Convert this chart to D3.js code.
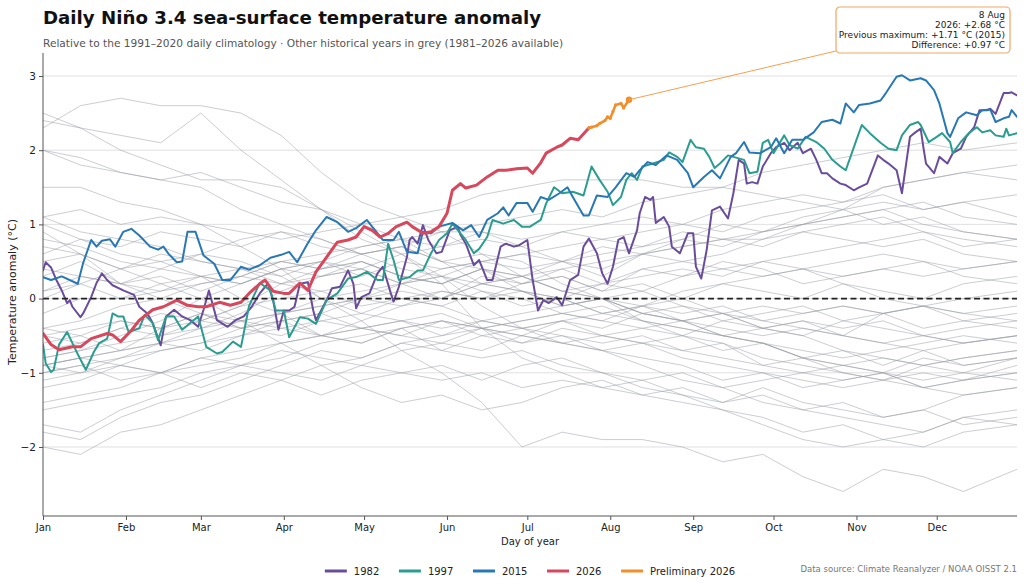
<!DOCTYPE html>
<html><head><meta charset="utf-8">
<script src="https://cdn.jsdelivr.net/npm/d3@7/dist/d3.min.js"></script>
<style>
html,body{margin:0;padding:0;background:#fff;}
svg{display:block;font-family:"DejaVu Sans",sans-serif;}
</style></head>
<body>
<svg id="chart" width="1024" height="588"></svg>
<script>
// ---------------- DATA ----------------
const monthLabels = ["Jan","Feb","Mar","Apr","May","Jun","Jul","Aug","Sep","Oct","Nov","Dec"];
const monthStartDays = [1,32,60,91,121,152,182,213,244,274,305,335];
const yTicks = [-2,-1,0,1,2,3];

const s1982 = [[1,0.38],[2,0.49],[4,0.42],[6,0.25],[8,0.11],[10,-0.06],[11,-0.02],[12,-0.11],[15,-0.25],[16,-0.2],[19,0.02],[21,0.21],[23,0.34],[25,0.25],[27,0.18],[31,0.11],[35,0.05],[37,-0.11],[40,-0.2],[42,-0.33],[45,-0.63],[47,-0.24],[50,-0.15],[53,-0.24],[56,-0.29],[59,-0.38],[61,-0.15],[63,0.11],[66,-0.29],[70,-0.38],[73,-0.29],[76,-0.24],[79,-0.11],[82,0.07],[85,0.2],[87,-0.02],[89,-0.42],[91,-0.16],[93,-0.16],[95,-0.11],[97,0.2],[100,0.22],[102,-0.16],[103,-0.29],[107,-0.02],[109,0.14],[112,0.16],[115,0.38],[117,0.2],[118,-0.13],[120,0.02],[123,0.07],[126,0.34],[128,0.43],[131,0.07],[132,-0.04],[134,0.16],[137,0.56],[138,0.79],[139,0.83],[141,0.74],[143,0.99],[145,0.79],[148,0.61],[150,0.63],[153,0.92],[156,0.97],[157,0.86],[159,0.74],[162,0.45],[164,0.52],[167,0.25],[169,0.25],[172,0.7],[174,0.74],[177,0.7],[179,0.72],[182,0.79],[184,0.25],[186,-0.16],[188,-0.02],[190,-0.06],[193,0.02],[195,-0.09],[198,0.25],[201,0.32],[203,0.7],[205,0.81],[208,0.61],[210,0.34],[212,0.2],[214,0.43],[216,0.79],[218,0.83],[220,0.61],[223,0.92],[224,1.15],[226,1.37],[228,1.33],[229,1.37],[230,1.02],[233,1.1],[235,0.97],[236,0.7],[239,0.61],[242,0.88],[244,0.88],[245,0.43],[247,0.27],[249,0.65],[251,1.19],[254,1.24],[257,1.08],[259,1.42],[261,1.87],[263,1.82],[264,1.55],[266,1.57],[268,1.55],[270,1.78],[273,1.96],[275,2.04],[278,2.1],[280,2.0],[283,2.1],[285,1.96],[288,2.02],[290,1.87],[292,1.69],[294,1.69],[296,1.62],[299,1.55],[301,1.53],[304,1.46],[306,1.5],[309,1.55],[313,1.93],[315,1.87],[317,1.82],[320,1.73],[322,1.42],[325,2.18],[327,2.24],[329,2.29],[330,2.04],[331,1.82],[334,1.69],[336,1.91],[339,1.82],[341,1.96],[344,2.02],[346,2.18],[349,2.31],[351,2.54],[354,2.54],[355,2.56],[357,2.49],[360,2.77],[362,2.77],[363,2.78],[365,2.74]];

const s1997 = [[1,-0.62],[2,-0.87],[4,-0.99],[5,-0.96],[7,-0.62],[10,-0.45],[12,-0.6],[14,-0.75],[17,-0.96],[20,-0.72],[22,-0.6],[25,-0.54],[27,-0.2],[29,-0.24],[31,-0.24],[33,-0.45],[37,-0.4],[39,-0.22],[42,-0.33],[44,-0.56],[47,-0.24],[50,-0.24],[53,-0.42],[59,-0.24],[62,-0.65],[66,-0.74],[68,-0.72],[72,-0.58],[75,-0.65],[78,-0.1],[82,0.21],[86,0.11],[88,-0.16],[91,-0.16],[93,-0.52],[97,-0.25],[100,-0.27],[103,-0.34],[107,-0.02],[111,0.07],[115,0.27],[118,0.29],[122,0.36],[126,0.25],[128,0.25],[130,0.74],[132,0.52],[134,0.25],[138,0.29],[141,0.38],[143,0.38],[146,0.61],[149,0.79],[152,0.88],[154,1.01],[157,0.88],[159,0.79],[162,0.61],[164,0.67],[167,0.83],[169,1.06],[173,1.01],[177,1.06],[180,0.97],[183,0.97],[187,1.06],[189,1.28],[192,1.5],[195,1.42],[199,1.44],[203,1.39],[206,1.78],[209,1.6],[212,1.44],[214,1.26],[217,1.37],[219,1.6],[221,1.69],[223,1.6],[225,1.78],[229,1.82],[233,1.87],[235,1.97],[238,1.91],[240,1.84],[243,2.14],[245,2.04],[248,2.02],[250,1.91],[252,1.76],[254,1.82],[257,1.93],[259,1.91],[263,1.87],[265,1.69],[268,1.71],[270,2.1],[272,2.14],[274,1.96],[278,2.2],[280,2.07],[283,2.02],[286,2.18],[290,2.11],[293,2.02],[296,1.87],[299,1.78],[301,1.73],[305,2.14],[307,2.34],[310,2.23],[314,2.1],[317,2.02],[320,2.0],[322,2.2],[325,2.34],[328,2.38],[329,2.34],[332,2.11],[335,2.18],[337,2.23],[340,2.11],[341,1.96],[344,2.11],[347,2.23],[350,2.31],[352,2.24],[355,2.27],[357,2.2],[360,2.18],[361,2.29],[362,2.2],[365,2.23]];

const s2015 = [[1,0.29],[4,0.25],[8,0.3],[14,0.2],[16,0.48],[19,0.79],[21,0.7],[23,0.78],[26,0.8],[28,0.7],[31,0.9],[34,0.94],[37,0.85],[41,0.7],[44,0.66],[46,0.7],[48,0.6],[51,0.49],[53,0.5],[55,0.9],[58,0.9],[61,0.58],[65,0.47],[68,0.25],[71,0.25],[75,0.43],[78,0.39],[82,0.45],[86,0.55],[90,0.59],[93,0.63],[96,0.49],[100,0.75],[103,0.92],[107,1.1],[111,1.03],[115,0.9],[118,0.95],[122,1.06],[124,0.97],[128,0.79],[132,0.79],[134,0.9],[137,0.63],[141,0.61],[143,0.9],[146,0.88],[149,0.97],[154,1.02],[158,0.92],[161,0.99],[164,0.83],[167,1.06],[171,1.15],[173,1.23],[175,1.12],[178,1.29],[182,1.29],[184,1.17],[187,1.37],[190,1.33],[194,1.42],[197,1.5],[199,1.37],[203,1.12],[205,1.12],[208,1.39],[212,1.37],[215,1.5],[219,1.69],[222,1.64],[224,1.73],[227,1.84],[230,1.8],[234,1.93],[238,1.87],[242,1.69],[244,1.5],[248,1.64],[251,1.73],[254,1.62],[258,1.91],[260,1.96],[263,2.11],[265,1.97],[269,1.96],[273,2.04],[275,2.16],[278,1.96],[281,2.14],[285,2.14],[289,2.24],[292,2.38],[296,2.41],[299,2.36],[301,2.63],[304,2.51],[306,2.61],[310,2.63],[314,2.67],[316,2.77],[320,2.99],[322,3.01],[325,2.94],[329,2.97],[331,2.94],[334,2.81],[336,2.63],[339,2.23],[340,2.18],[343,2.43],[346,2.51],[350,2.47],[352,2.54],[355,2.55],[357,2.38],[360,2.43],[362,2.45],[363,2.54],[365,2.45]];

const s2026 = [[1,-0.47],[4,-0.62],[7,-0.69],[12,-0.65],[15,-0.65],[19,-0.54],[25,-0.47],[27,-0.49],[30,-0.58],[34,-0.43],[37,-0.29],[42,-0.15],[46,-0.11],[51,-0.02],[55,-0.09],[59,-0.11],[62,-0.11],[67,-0.05],[71,-0.09],[75,-0.05],[78,0.07],[82,0.2],[84,0.25],[87,0.1],[91,0.07],[93,0.07],[97,0.21],[100,0.11],[103,0.36],[107,0.56],[111,0.76],[115,0.79],[118,0.83],[121,0.97],[124,0.92],[127,0.83],[130,0.88],[133,0.97],[137,1.03],[139,0.97],[143,0.88],[146,0.9],[149,0.97],[152,1.15],[154,1.46],[157,1.55],[159,1.49],[163,1.53],[167,1.64],[171,1.73],[174,1.73],[178,1.75],[182,1.76],[184,1.69],[187,1.83],[189,1.96],[193,2.04],[195,2.07],[198,2.16],[201,2.14],[205,2.3]];

const sPrelim2026 = [[205,2.3],[206,2.31],[208,2.33],[209,2.36],[211,2.4],[212,2.45],[213,2.43],[214,2.52],[215,2.61],[217,2.63],[218,2.57],[220,2.68]];

const annotationLines = ["8 Aug","2026: +2.68 °C","Previous maximum: +1.71 °C (2015)","Difference: +0.97 °C"];

const greyDays = [1,15,30,45,60,75,90,105,120,135,150,165,180,195,210,225,240,255,270,285,300,315,330,345,365];
const grey1983 = [2.3,2.6,2.7,2.6,2.6,2.5,2.2,1.7,1.3,1.1,0.9,0.6,0.5,0.2,0.0,-0.3,-0.5,-0.6,-0.8,-0.9,-1.0,-1.1,-0.9,-0.8,-0.7];
const grey1984 = [-0.5,-0.4,-0.3,-0.4,-0.2,-0.3,-0.4,-0.5,-0.6,-0.4,-0.3,-0.5,-0.4,-0.3,-0.2,-0.3,-0.4,-0.5,-0.6,-0.8,-1.0,-1.1,-1.2,-1.3,-1.2];
const grey1985 = [-1.2,-1.1,-0.9,-1.0,-0.8,-0.9,-0.7,-0.8,-0.9,-0.7,-0.6,-0.7,-0.5,-0.6,-0.5,-0.4,-0.5,-0.3,-0.4,-0.5,-0.3,-0.4,-0.5,-0.4,-0.3];
const grey1986 = [-0.6,-0.5,-0.7,-0.4,-0.3,-0.4,-0.2,-0.1,0.0,0.1,0.0,0.2,0.3,0.5,0.6,0.7,0.8,1.0,0.9,1.1,1.2,1.3,1.2,1.3,1.4];
const grey1987 = [1.1,1.2,1.0,1.1,1.0,0.9,0.8,0.9,1.0,1.1,1.2,1.4,1.5,1.6,1.6,1.6,1.5,1.5,1.4,1.3,1.2,1.0,1.1,0.9,0.8];
const grey1988 = [0.7,0.6,0.4,0.2,0.0,-0.3,-0.6,-0.9,-1.2,-1.4,-1.3,-1.5,-1.4,-1.2,-1.1,-1.3,-1.4,-1.5,-1.7,-1.9,-2.0,-1.9,-2.0,-1.8,-1.7];
const grey1989 = [-1.7,-1.8,-1.5,-1.3,-1.1,-0.9,-0.8,-0.6,-0.5,-0.4,-0.3,-0.4,-0.3,-0.2,-0.3,-0.1,-0.2,-0.1,-0.3,-0.2,-0.1,-0.2,-0.1,0.0,0.1];
const grey1990 = [0.1,0.3,0.2,0.4,0.3,0.2,0.4,0.3,0.5,0.3,0.2,0.4,0.3,0.4,0.2,0.4,0.3,0.5,0.4,0.2,0.3,0.4,0.3,0.4,0.5];
const grey1991 = [0.4,0.3,0.2,0.1,0.2,0.3,0.5,0.6,0.7,0.8,0.7,0.9,0.7,0.5,0.4,0.6,0.7,0.8,0.8,1.0,1.2,1.5,1.6,1.7,1.8];
const grey1992 = [2.0,1.8,1.7,1.6,1.7,1.5,1.3,1.2,1.0,0.8,0.5,0.2,0.1,-0.1,0.0,-0.2,-0.3,-0.5,-0.4,-0.3,-0.5,-0.2,-0.1,-0.2,-0.1];
const grey1993 = [0.0,0.2,0.4,0.5,0.6,0.8,0.9,0.8,0.6,0.7,0.5,0.4,0.2,0.3,0.1,0.2,0.0,0.2,0.1,0.0,0.2,0.1,0.0,0.2,0.3];
const grey1994 = [0.1,0.2,0.0,0.1,0.3,0.2,0.4,0.5,0.3,0.5,0.4,0.5,0.4,0.5,0.3,0.6,0.8,0.7,0.9,1.0,1.1,1.2,1.3,1.1,1.0];
const grey1995 = [1.1,0.9,0.8,0.7,0.5,0.4,0.2,0.1,0.2,0.0,-0.1,-0.3,-0.4,-0.6,-0.7,-0.8,-0.9,-1.1,-1.0,-1.2,-1.1,-1.0,-1.2,-1.1,-0.9];
const grey1996 = [-0.9,-0.8,-0.9,-0.7,-0.6,-0.5,-0.4,-0.3,-0.4,-0.3,-0.2,-0.4,-0.3,-0.2,-0.3,-0.4,-0.3,-0.4,-0.5,-0.4,-0.5,-0.6,-0.5,-0.6,-0.5];
const grey1998 = [2.5,2.3,2.2,2.1,2.5,2.0,1.6,1.2,0.8,0.6,0.2,-0.4,-0.8,-1.0,-1.2,-1.1,-1.3,-1.4,-1.2,-1.4,-1.5,-1.6,-1.5,-1.7,-1.6];
const grey1999 = [-1.5,-1.4,-1.3,-1.2,-1.0,-0.9,-1.0,-1.1,-0.9,-1.0,-1.1,-1.0,-1.2,-1.1,-1.2,-1.3,-1.2,-1.4,-1.3,-1.5,-1.6,-1.7,-1.8,-1.6,-1.5];
const grey2000 = [-1.8,-1.9,-1.6,-1.4,-1.3,-1.1,-0.9,-0.7,-0.8,-0.6,-0.7,-0.5,-0.6,-0.4,-0.5,-0.6,-0.5,-0.7,-0.6,-0.8,-0.9,-0.8,-0.9,-0.8,-0.7];
const grey2001 = [-0.8,-0.7,-0.6,-0.5,-0.4,-0.3,-0.2,-0.1,0.0,-0.1,0.1,0.0,0.1,-0.1,0.0,-0.2,-0.1,-0.3,-0.2,-0.1,-0.3,-0.2,-0.4,-0.3,-0.2];
const grey2002 = [-0.2,0.0,0.0,0.2,0.3,0.4,0.5,0.4,0.6,0.7,0.9,0.9,0.8,0.9,1.0,1.1,1.0,1.2,1.3,1.4,1.3,1.4,1.2,1.3,1.1];
const grey2003 = [1.0,0.8,0.6,0.5,0.3,0.0,-0.2,-0.5,-0.3,-0.1,0.0,0.2,0.3,0.1,0.2,0.3,0.4,0.3,0.5,0.4,0.3,0.4,0.5,0.3,0.2];
const grey2004 = [0.3,0.5,0.2,0.3,0.1,0.3,0.2,0.3,0.4,0.2,0.4,0.5,0.6,0.7,0.8,0.7,0.9,0.8,0.7,0.9,0.8,0.7,0.8,0.6,0.5];
const grey2005 = [0.8,0.7,0.5,0.4,0.6,0.5,0.3,0.5,0.4,0.2,0.3,0.1,-0.1,0.0,-0.2,-0.1,0.0,-0.2,-0.4,-0.5,-0.7,-0.8,-0.9,-1.0,-0.8];
const grey2006 = [-1.0,-0.9,-0.8,-0.6,-0.5,-0.3,-0.2,0.0,0.1,0.2,0.0,0.3,0.2,0.4,0.5,0.6,0.7,0.8,0.9,1.0,1.1,1.2,1.0,0.9,0.8];
const grey2007 = [0.9,0.6,0.2,0.0,-0.2,-0.4,-0.3,-0.5,-0.6,-0.4,-0.7,-0.8,-0.7,-0.9,-1.0,-1.2,-1.3,-1.5,-1.6,-1.8,-1.7,-1.9,-1.8,-1.6,-1.7];
const grey2008 = [-2.0,-2.1,-1.8,-1.7,-1.5,-1.3,-1.1,-0.9,-0.8,-0.6,-0.5,-0.3,-0.2,-0.1,0.0,0.1,-0.1,-0.2,-0.3,-0.4,-0.5,-0.6,-0.7,-0.9,-0.8];
const grey2009 = [-0.9,-0.8,-0.7,-0.6,-0.4,-0.2,0.1,0.3,0.4,0.6,0.7,0.8,0.7,0.9,0.8,0.9,1.0,0.9,1.1,1.2,1.3,1.5,1.6,1.7,1.6];
const grey2010 = [1.5,1.5,1.3,1.2,1.0,0.7,0.4,0.0,-0.3,-0.7,-1.0,-1.4,-2.0,-1.8,-1.9,-1.9,-2.0,-2.2,-2.1,-2.4,-2.6,-2.3,-2.4,-2.6,-2.3];
const grey2011 = [-1.4,-1.3,-1.2,-1.0,-0.9,-0.8,-0.6,-0.5,-0.4,-0.5,-0.3,-0.4,-0.5,-0.6,-0.7,-0.6,-0.8,-0.9,-1.0,-1.1,-1.2,-1.1,-1.0,-1.1,-1.0];
const grey2012 = [-0.9,-0.8,-0.7,-0.6,-0.7,-0.5,-0.3,-0.2,0.0,0.2,0.3,0.5,0.6,0.5,0.7,0.6,0.5,0.4,0.3,0.4,0.2,0.0,-0.1,-0.2,-0.3];
const grey2013 = [-0.4,-0.5,-0.3,-0.4,-0.2,-0.4,-0.3,-0.2,-0.4,-0.5,-0.6,-0.4,-0.5,-0.3,-0.4,-0.2,-0.3,-0.2,-0.1,-0.2,-0.1,-0.2,-0.1,-0.3,-0.4];
const grey2014 = [-0.5,-0.6,-0.4,-0.5,-0.3,-0.1,0.2,0.4,0.5,0.3,0.2,0.4,0.1,0.0,0.2,0.1,0.3,0.4,0.5,0.6,0.7,0.8,0.9,0.7,0.8];
const grey2016 = [2.4,2.3,2.0,1.8,1.6,1.6,1.5,1.2,0.9,0.6,0.3,-0.1,-0.4,-0.3,-0.5,-0.6,-0.7,-0.6,-0.9,-0.8,-0.7,-0.9,-0.7,-0.6,-0.5];
const grey2017 = [-0.4,-0.3,-0.1,0.0,0.2,0.3,0.5,0.4,0.5,0.3,0.2,0.4,0.3,0.1,0.0,-0.2,-0.3,-0.5,-0.6,-0.8,-0.9,-1.0,-1.1,-1.0,-1.1];
const grey2018 = [-0.9,-1.0,-0.8,-0.7,-0.6,-0.4,-0.5,-0.3,-0.2,0.0,0.1,0.0,0.2,0.3,0.1,0.4,0.5,0.6,0.8,0.9,1.0,1.1,0.9,0.8,0.7];
const grey2019 = [0.6,0.8,0.7,0.9,0.8,0.7,0.9,0.7,0.6,0.7,0.5,0.6,0.3,0.1,0.0,-0.1,0.1,0.2,0.3,0.4,0.5,0.6,0.5,0.4,0.5];
const grey2020 = [0.5,0.6,0.4,0.6,0.5,0.4,0.3,0.0,-0.2,-0.3,-0.5,-0.4,-0.6,-0.5,-0.7,-0.9,-1.1,-1.2,-1.4,-1.5,-1.4,-1.6,-1.5,-1.3,-1.2];
const grey2021 = [-1.1,-1.0,-0.9,-1.0,-0.8,-0.7,-0.6,-0.5,-0.4,-0.3,-0.4,-0.3,-0.4,-0.5,-0.6,-0.5,-0.7,-0.8,-0.9,-1.0,-1.1,-1.0,-1.2,-1.1,-1.0];
const grey2022 = [-1.0,-0.9,-1.1,-1.0,-1.2,-1.0,-1.1,-1.3,-1.1,-1.0,-0.9,-1.1,-0.9,-0.8,-1.0,-1.1,-1.0,-1.2,-1.1,-1.0,-0.9,-1.0,-0.8,-0.9,-0.8];
const grey2023 = [-0.8,-0.7,-0.5,-0.3,0.0,0.2,0.4,0.5,0.7,0.8,0.9,1.0,1.1,1.2,1.1,1.3,1.4,1.5,1.7,1.8,1.9,2.0,2.1,2.0,2.1];
const grey2024 = [2.0,1.9,1.7,1.6,1.5,1.2,1.0,0.8,0.6,0.4,0.3,0.2,0.1,0.0,-0.2,-0.1,-0.3,-0.2,-0.4,-0.3,-0.4,-0.3,-0.5,-0.6,-0.5];
const grey2025 = [-0.7,-0.6,-0.4,-0.2,-0.3,-0.1,0.0,0.1,-0.1,0.0,-0.1,0.1,0.0,-0.2,-0.1,-0.3,-0.4,-0.5,-0.6,-0.7,-0.8,-0.7,-0.6,-0.5,-0.6];

const greySeries = [grey1983,grey1984,grey1985,grey1986,grey1987,grey1988,grey1989,grey1990,grey1991,grey1992,grey1993,grey1994,grey1995,grey1996,grey1998,grey1999,grey2000,grey2001,grey2002,grey2003,grey2004,grey2005,grey2006,grey2007,grey2008,grey2009,grey2010,grey2011,grey2012,grey2013,grey2014,grey2016,grey2017,grey2018,grey2019,grey2020,grey2021,grey2022,grey2023,grey2024,grey2025];

const highlight = [
  {name:"1982", data:s1982, color:"#6a4c9c", width:2},
  {name:"1997", data:s1997, color:"#2a9d8f", width:2},
  {name:"2015", data:s2015, color:"#2878b5", width:2},
  {name:"2026", data:s2026, color:"#d8475c", width:3}
];
const prelimColor = "#f28e2b";

// ---------------- LAYOUT ----------------
const W = 1024, H = 588;
const m = {left:43, right:1017, top:53, bottom:516};
const svg = d3.select("#chart");

const x = d3.scaleLinear().domain([1,365]).range([m.left, m.right]);
const y = d3.scaleLinear().domain([-2.93,3.31]).range([m.bottom, m.top]);

svg.append("defs").append("clipPath").attr("id","clip")
  .append("rect").attr("x",m.left).attr("y",m.top).attr("width",m.right-m.left).attr("height",m.bottom-m.top);

// grid
svg.append("g").selectAll("line").data(yTicks).join("line")
  .attr("x1",m.left).attr("x2",m.right)
  .attr("y1",d=>y(d)).attr("y2",d=>y(d))
  .attr("stroke","#dcdcdc").attr("stroke-width",0.9);

const plot = svg.append("g").attr("clip-path","url(#clip)");

// grey lines
const greyLine = d3.line().x((d,i)=>x(greyDays[i])).y(d=>y(d)).curve(d3.curveLinear);
plot.append("g").selectAll("path").data(greySeries).join("path")
  .attr("d",greyLine).attr("fill","none")
  .attr("stroke","#949aa3").attr("stroke-opacity",0.55).attr("stroke-width",0.9);

// zero line
svg.append("line").attr("x1",m.left).attr("x2",m.right)
  .attr("y1",y(0)).attr("y2",y(0))
  .attr("stroke","#222").attr("stroke-width",1.6).attr("stroke-dasharray","6,3.5");

const line = d3.line().x(d=>x(d[0])).y(d=>y(d[1])).curve(d3.curveLinear);
highlight.forEach(s=>{
  plot.append("path").datum(s.data).attr("d",line).attr("fill","none")
    .attr("stroke",s.color).attr("stroke-width",s.width)
    .attr("stroke-linejoin","round").attr("stroke-linecap","round");
});
plot.append("path").datum(sPrelim2026).attr("d",line).attr("fill","none")
  .attr("stroke",prelimColor).attr("stroke-width",2.6).attr("stroke-linejoin","round");
plot.append("g").selectAll("circle").data(sPrelim2026).join("circle")
  .attr("cx",d=>x(d[0])).attr("cy",d=>y(d[1])).attr("r",1.6).attr("fill",prelimColor);
const last = sPrelim2026[sPrelim2026.length-1];
svg.append("circle").attr("cx",x(last[0])).attr("cy",y(last[1])).attr("r",3.2).attr("fill",prelimColor);

// axes
const yAxis = d3.axisLeft(y).tickValues(yTicks).tickSize(4).tickPadding(3)
  .tickFormat(d=> d<0 ? "\u2212"+Math.abs(d) : String(d));
const gy = svg.append("g").attr("transform",`translate(${m.left},0)`).call(yAxis);
gy.select(".domain").remove();
gy.append("line").attr("x1",0).attr("x2",0).attr("y1",m.top).attr("y2",m.bottom).attr("stroke","#555").attr("stroke-width",1);
gy.selectAll(".tick line").attr("stroke","#555");
gy.selectAll(".tick text").attr("fill","#222").style("font-size","10.5px").style("font-family","DejaVu Sans");

const xAxis = d3.axisBottom(x).tickValues(monthStartDays).tickSize(4).tickPadding(4)
  .tickFormat((d,i)=>monthLabels[i]);
const gx = svg.append("g").attr("transform",`translate(0,${m.bottom})`).call(xAxis);
gx.select(".domain").remove();
gx.append("line").attr("x1",m.left).attr("x2",m.right).attr("y1",0).attr("y2",0).attr("stroke","#555").attr("stroke-width",1);
gx.selectAll(".tick line").attr("stroke","#555");
gx.selectAll(".tick text").attr("fill","#222").style("font-size","10px").style("font-family","DejaVu Sans");

// axis titles
svg.append("text").attr("x",(m.left+m.right)/2).attr("y",545).attr("text-anchor","middle")
  .style("font-size","10px").attr("fill","#222").text("Day of year");
svg.append("text").attr("transform",`translate(16,292) rotate(-90)`)
  .attr("text-anchor","middle").style("font-size","11px").attr("fill","#222").text("Temperature anomaly (°C)");

// title
svg.append("text").attr("x",43).attr("y",24).style("font-size","18.2px").style("font-weight","bold")
  .attr("fill","#111").text("Daily Niño 3.4 sea-surface temperature anomaly");
svg.append("text").attr("x",43).attr("y",47).style("font-size","10.6px").attr("fill","#555")
  .text("Relative to the 1991–2020 daily climatology · Other historical years in grey (1981–2026 available)");

// annotation
const boxX = 836, boxY = 7, boxW = 174, boxH = 46;
svg.append("line").attr("x1",x(last[0])).attr("y1",y(last[1])).attr("x2",boxX).attr("y2",boxY+boxH-2)
  .attr("stroke","#f4a050").attr("stroke-width",1);
svg.append("rect").attr("x",boxX).attr("y",boxY).attr("width",boxW).attr("height",boxH).attr("rx",4)
  .attr("fill","#fff").attr("stroke","#f4a662").attr("stroke-width",1.2);
svg.append("g").selectAll("text").data(annotationLines).join("text")
  .attr("x",boxX+boxW-5).attr("y",(d,i)=>17.5+i*10.3).attr("text-anchor","end")
  .style("font-size","9px").attr("fill","#222").text(d=>d);

// legend
const legendItems = highlight.map(s=>({name:s.name,color:s.color})).concat([{name:"Preliminary 2026",color:prelimColor}]);
const lg = svg.append("g");
const items = lg.selectAll("g").data(legendItems).join("g");
items.append("line").attr("x1",0).attr("x2",22).attr("y1",0).attr("y2",0)
  .attr("stroke",d=>d.color).attr("stroke-width",3);
items.append("text").attr("x",29).attr("y",3.6).style("font-size","10px").attr("fill","#222").text(d=>d.name);
let widths = [];
items.each(function(){ widths.push(29 + this.querySelector("text").getComputedTextLength()); });
const gap = 19.6;
const total = d3.sum(widths) + gap*(widths.length-1);
let cx = (m.left+m.right)/2 - total/2;
items.attr("transform",(d,i)=>{ const t = `translate(${cx},571)`; cx += widths[i]+gap; return t; });

svg.append("text").attr("x",1017).attr("y",572).attr("text-anchor","end")
  .style("font-size","8.5px").attr("fill","#777").text("Data source: Climate Reanalyzer / NOAA OISST 2.1");
</script>
</body></html>
